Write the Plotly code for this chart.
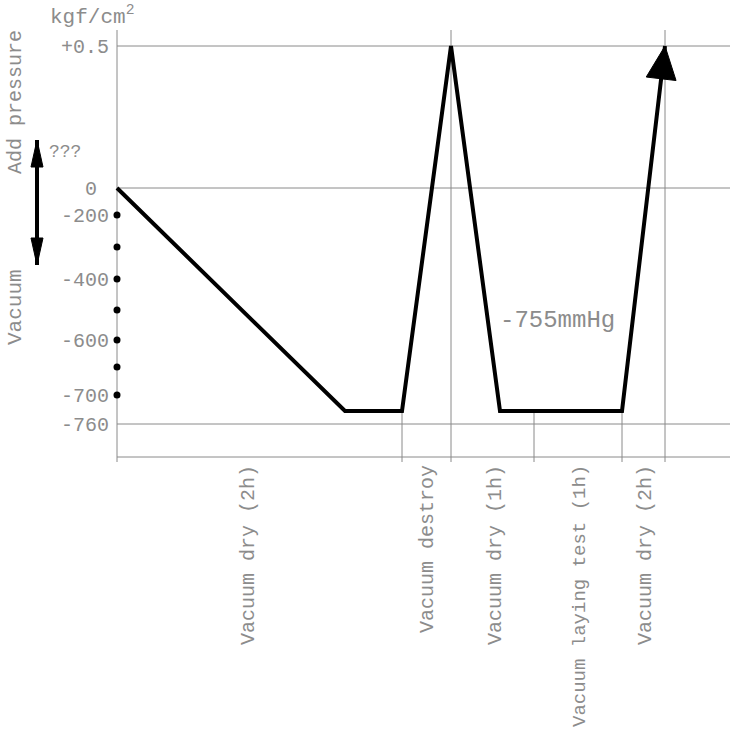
import numpy as np
import plotly.graph_objects as go

# ---- data (schematic drawing units; pressure levels are not to scale) ----
profile_x = [0, 228, 285, 334, 383, 505, 548]          # process time (schematic)
profile_y = [0, -223, -223, 142, -223, -223, 142]       # pressure level (schematic)

tick_pos = [142, 0, -27, -91, -152, -207, -236]
tick_text = ["+0.5", "0\u00a0", "-200", "-400", "-600", "-700", "-760"]
dot_y = [-27, -59, -91, -122, -152, -179, -207]

level_lines_y = [142, 0, -236, -269]      # +0.5, 0, -760, baseline
phase_x = [285, 334, 417, 505, 548]       # phase boundaries
phase_top = [-223, 158, -223, -223, 158]
axis_top, axis_bottom = 158, -274
x_end = 613

phase_labels = ["Vacuum dry (2h)", "Vacuum destroy", "Vacuum dry (1h)",
                "Vacuum laying test (1h)", "Vacuum dry (2h)"]
phase_label_x = [131, 310, 378, 463, 528]
phase_label_size = [20, 20, 20, 19, 20]
label_top = -275

vert_arrow_x = -80
vert_arrow_y = [48, -77]

GRAY = "#8a8a8a"
TXT = "#8c8c8c"
FONT = "Liberation Mono"


def head(tip, tail, length, half_w):
    tip = np.array(tip, float)
    tail = np.array(tail, float)
    d = tip - tail
    d /= np.linalg.norm(d)
    n = np.array([-d[1], d[0]])
    base = tip - d * length
    pts = [tip, base + n * half_w, base - n * half_w, tip]
    return [p[0] for p in pts], [p[1] for p in pts]


fig = go.Figure()

# gray reference lines
for yv in level_lines_y:
    fig.add_trace(go.Scatter(x=[0, x_end], y=[yv, yv], mode="lines",
                             line=dict(color=GRAY, width=1), hoverinfo="skip"))
fig.add_trace(go.Scatter(x=[0, 0], y=[axis_top, axis_bottom], mode="lines",
                         line=dict(color=GRAY, width=1), hoverinfo="skip"))
for xv, yt in zip(phase_x, phase_top):
    fig.add_trace(go.Scatter(x=[xv, xv], y=[yt, axis_bottom], mode="lines",
                             line=dict(color=GRAY, width=1), hoverinfo="skip"))

# pressure profile
fig.add_trace(go.Scatter(x=profile_x, y=profile_y, mode="lines",
                         line=dict(color="black", width=4), hoverinfo="skip"))
hx, hy = head((profile_x[-1], profile_y[-1]), (profile_x[-2], profile_y[-2]), 33, 15)
fig.add_trace(go.Scatter(x=hx, y=hy, mode="lines", fill="toself", fillcolor="black",
                         line=dict(color="black", width=1), hoverinfo="skip"))

# dots on the axis
fig.add_trace(go.Scatter(x=[0] * len(dot_y), y=dot_y, mode="markers",
                         marker=dict(color="black", size=7), hoverinfo="skip"))

# double arrow on the left
fig.add_trace(go.Scatter(x=[vert_arrow_x] * 2, y=vert_arrow_y, mode="lines",
                         line=dict(color="black", width=4), hoverinfo="skip"))
mid = sum(vert_arrow_y) / 2
for ye in vert_arrow_y:
    hx, hy = head((vert_arrow_x, ye), (vert_arrow_x, mid), 27, 6)
    fig.add_trace(go.Scatter(x=hx, y=hy, mode="lines", fill="toself", fillcolor="black",
                             line=dict(color="black", width=1), hoverinfo="skip"))

ann = []
for lab, lx, fs in zip(phase_labels, phase_label_x, phase_label_size):
    ann.append(dict(x=lx, y=label_top, text=lab, textangle=-90, showarrow=False,
                    xanchor="center", yanchor="top",
                    font=dict(family=FONT, size=fs, color=TXT)))
ann += [
    dict(x=-102, y=86, text="Add pressure", textangle=-90, showarrow=False,
         xanchor="center", yanchor="middle", font=dict(family=FONT, size=20, color=TXT)),
    dict(x=-102, y=-119, text="Vacuum", textangle=-90, showarrow=False,
         xanchor="center", yanchor="middle", font=dict(family=FONT, size=21, color=TXT)),
    dict(x=-70, y=36, text="???", showarrow=False, xanchor="left", yanchor="middle",
         font=dict(family=FONT, size=18, color=TXT)),
    dict(x=-69, y=173, text="kgf/cm<sup>2</sup>", showarrow=False, xanchor="left",
         yanchor="middle", font=dict(family=FONT, size=21, color=TXT)),
    dict(x=381, y=-132, text="-755mmHg", showarrow=False, xanchor="left",
         yanchor="middle", font=dict(family=FONT, size=24, color=TXT)),
]

fig.update_layout(
    width=730, height=734,
    margin=dict(l=0, r=0, t=0, b=0),
    plot_bgcolor="white", paper_bgcolor="white",
    showlegend=False,
    annotations=ann,
    xaxis=dict(range=[-117, 613], visible=False, fixedrange=True),
    yaxis=dict(range=[-546, 188], anchor="free", position=117 / 730,
               tickvals=tick_pos, ticktext=tick_text, ticks="",
               showgrid=False, zeroline=False, showline=False,
               ticklabelstandoff=8, fixedrange=True,
               tickfont=dict(family=FONT, size=20, color=TXT)),
)

fig.write_html("out.html", config={"displayModeBar": False},
               post_script="document.body.style.margin='0px';document.body.style.overflow='hidden';")
